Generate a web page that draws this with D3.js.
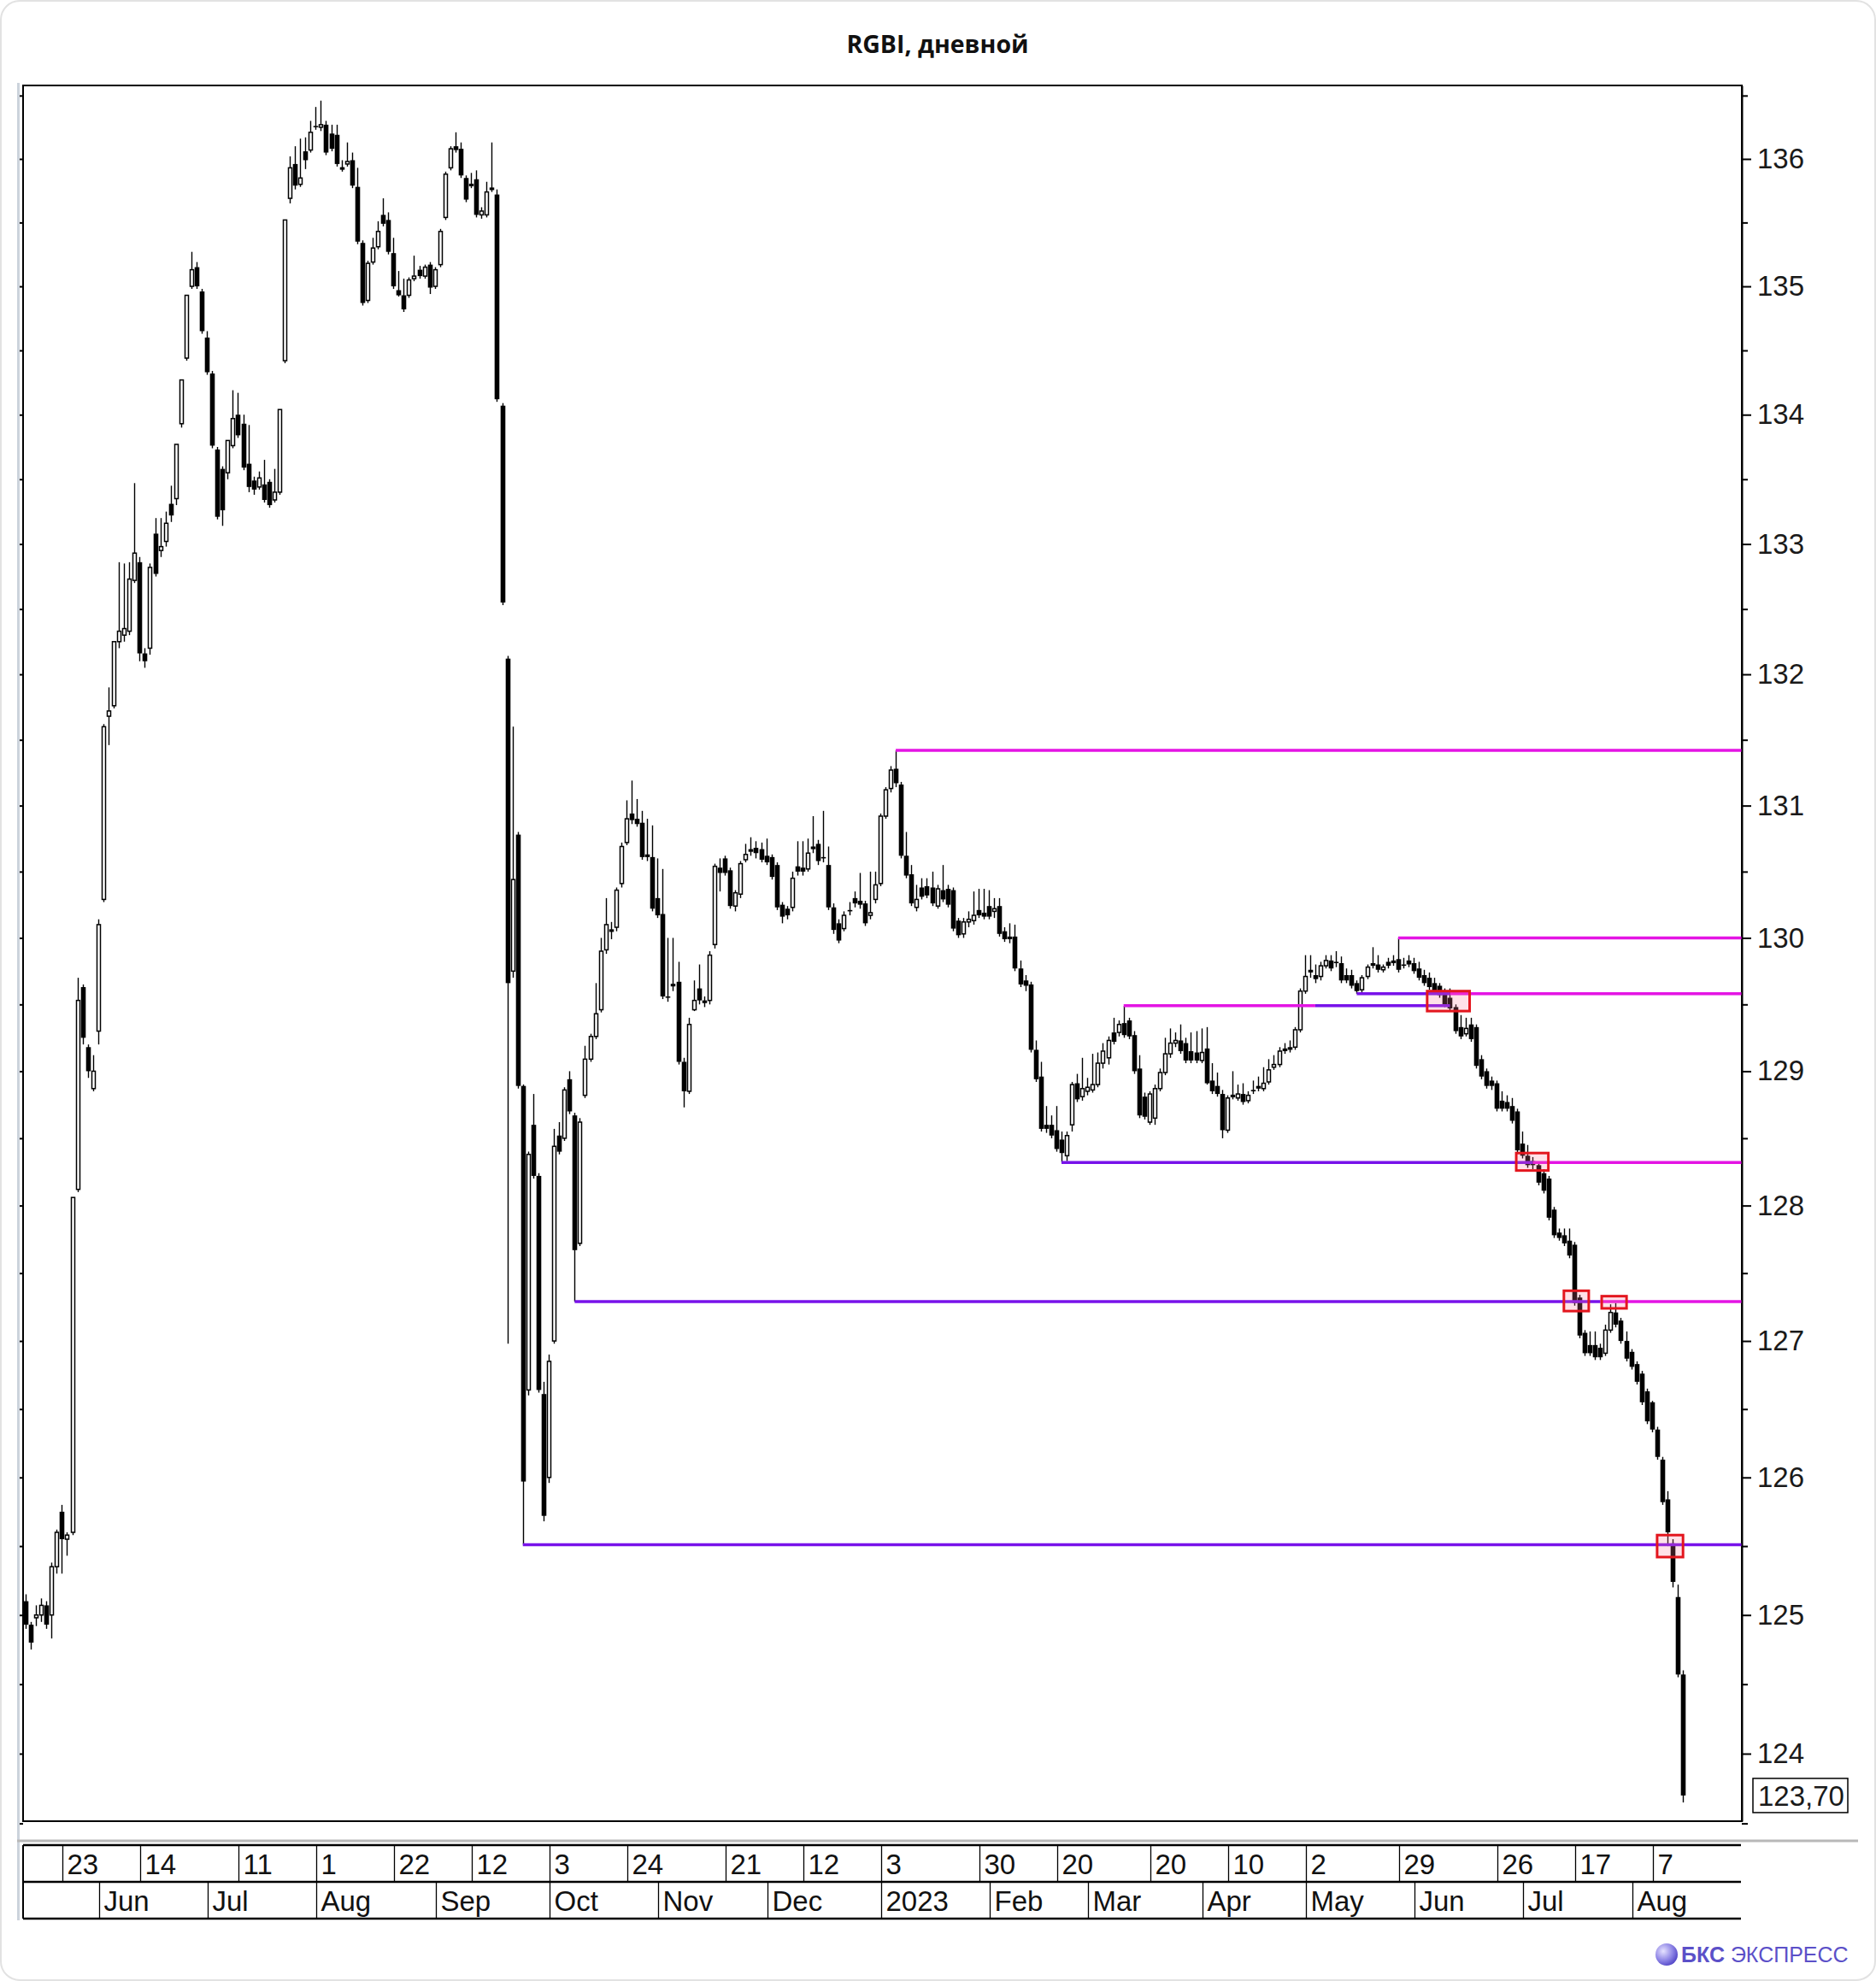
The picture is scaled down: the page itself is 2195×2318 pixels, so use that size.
<!DOCTYPE html>
<html><head><meta charset="utf-8">
<script src="https://cdn.jsdelivr.net/npm/d3@7"></script>
<style>html,body{margin:0;padding:0;background:#fff;}svg{display:block;}</style>
</head><body><svg id="c" width="2195" height="2318"></svg>
<script>
// ---------------- DATA ----------------
const title = "RGBI, дневной";
const opens = [
125.10,124.93,124.98,125.00,125.07,125.00,125.35,125.75,125.55,125.60,
128.12,129.63,129.18,128.87,129.30,130.29,131.68,131.76,132.25,132.30,
132.33,132.72,132.86,132.16,132.20,133.08,132.95,133.02,133.31,133.35,
133.93,134.44,135.00,135.15,134.96,134.60,134.32,133.73,133.58,133.55,
133.76,134.00,133.93,133.62,133.49,133.44,133.46,133.48,133.34,133.40,
134.42,135.69,135.96,135.80,136.06,136.07,136.26,136.25,136.27,136.20,
136.19,135.93,135.96,135.99,135.78,135.34,134.89,135.19,135.31,135.56,
135.52,135.26,134.97,134.93,134.93,135.06,135.13,135.08,135.17,135.00,
135.17,135.54,135.93,136.10,136.08,135.85,135.80,135.84,135.56,135.56,
135.76,135.72,134.07,132.12,129.75,130.78,128.89,126.64,128.60,128.22,
126.61,126.00,127.00,128.52,128.50,128.94,128.67,127.72,128.82,129.09,
129.26,129.46,129.91,130.05,130.08,130.41,130.72,130.94,130.90,130.87,
130.63,130.61,130.30,130.18,129.56,129.64,129.67,129.07,128.85,129.46,
129.62,129.53,129.53,129.95,130.53,130.60,130.51,130.24,130.33,130.59,
130.67,130.68,130.67,130.62,130.61,130.55,130.25,130.22,130.23,130.54,
130.53,130.52,130.69,130.71,130.61,130.55,130.23,130.11,130.07,130.21,
130.30,130.28,130.26,130.17,130.29,130.41,130.92,131.13,131.28,131.16,
130.62,130.48,130.23,130.38,130.39,130.38,130.24,130.36,130.37,130.36,
130.13,130.03,130.12,130.13,130.21,130.19,130.24,130.20,130.24,130.05,
130.01,130.01,129.77,129.68,129.65,129.16,128.96,128.60,128.60,128.56,
128.49,128.37,128.60,128.91,128.81,128.85,128.86,128.90,129.06,129.10,
129.29,129.29,129.36,129.38,129.27,129.02,128.81,128.62,128.65,128.87,
128.99,129.13,129.21,129.23,129.21,129.15,129.14,129.08,129.17,128.93,
128.89,128.83,128.56,128.81,128.80,128.83,128.78,128.86,128.89,128.87,
128.92,129.03,129.05,129.17,129.18,129.18,129.31,129.60,129.76,129.72,
129.71,129.79,129.83,129.82,129.81,129.72,129.72,129.66,129.61,129.71,
129.81,129.80,129.76,129.82,129.83,129.84,129.80,129.83,129.81,129.77,
129.72,129.70,129.66,129.64,129.59,129.55,129.48,129.33,129.28,129.35,
129.33,129.09,129.00,128.93,128.91,128.78,128.77,128.74,128.70,128.46,
128.37,128.33,128.30,128.24,128.20,127.97,127.80,127.78,127.74,127.71,
127.32,127.06,126.97,126.97,126.95,126.91,127.08,127.21,127.15,127.00,
126.92,126.83,126.76,126.63,126.55,126.35,126.13,125.84,125.52,125.13,
124.57];
const highs = [
125.15,124.95,125.07,125.12,125.10,125.38,125.62,125.80,125.60,128.06,
129.70,129.65,129.20,129.12,130.14,131.62,131.90,132.25,132.86,132.85,
132.86,133.47,132.90,132.20,132.85,133.20,133.20,133.25,133.45,133.77,
134.27,134.93,135.27,135.19,134.98,134.65,134.34,133.75,133.60,133.80,
134.19,134.17,134.00,133.92,133.52,133.56,133.65,133.50,133.58,134.04,
135.52,136.02,136.10,136.16,136.17,136.30,136.41,136.46,136.30,136.27,
136.27,135.99,136.13,136.05,135.93,135.36,135.20,135.38,135.51,135.69,
135.58,135.38,135.12,135.06,135.07,135.24,135.16,135.17,135.19,135.15,
135.45,135.90,136.10,136.21,136.13,135.87,135.89,135.91,135.62,135.82,
136.13,135.76,134.09,132.14,131.60,130.80,128.90,128.40,128.83,128.24,
126.70,126.90,128.57,128.62,128.88,129.00,128.69,128.65,129.19,129.28,
129.66,130.00,130.30,130.12,130.38,130.72,131.04,131.19,131.05,130.96,
130.90,130.85,130.60,130.52,130.00,130.00,129.82,129.10,129.40,129.68,
129.80,129.56,129.90,130.56,130.60,130.62,130.53,130.36,130.58,130.71,
130.76,130.73,130.72,130.75,130.63,130.57,130.27,130.24,130.50,130.73,
130.73,130.75,130.92,130.74,130.96,130.69,130.26,130.14,130.20,130.27,
130.35,130.49,130.28,130.50,130.50,130.94,131.14,131.30,131.42,131.18,
130.80,130.55,130.40,130.45,130.45,130.50,130.40,130.55,130.40,130.38,
130.15,130.15,130.20,130.35,130.37,130.37,130.36,130.30,130.30,130.08,
130.11,130.10,129.83,129.72,129.67,129.23,129.07,128.74,128.67,128.74,
128.55,128.55,128.92,128.98,129.10,128.95,129.13,129.14,129.21,129.26,
129.40,129.38,129.49,129.40,129.30,129.12,128.84,128.85,128.90,129.02,
129.25,129.32,129.29,129.35,129.25,129.29,129.30,129.32,129.33,129.06,
128.99,128.86,128.82,129.00,128.90,128.91,128.85,128.93,128.96,129.03,
129.09,129.12,129.18,129.21,129.23,129.33,129.62,129.87,129.87,129.80,
129.82,129.87,129.87,129.90,129.86,129.77,129.76,129.68,129.72,129.80,
129.93,129.87,129.80,129.85,129.87,130.00,129.85,129.87,129.85,129.82,
129.76,129.74,129.70,129.66,129.62,129.62,129.50,129.42,129.40,129.40,
129.35,129.12,129.02,128.96,128.93,128.85,128.82,128.80,128.72,128.55,
128.45,128.36,128.32,128.27,128.22,127.99,127.83,127.83,127.83,127.73,
127.34,127.08,127.07,127.07,126.98,127.12,127.27,127.28,127.17,127.07,
126.94,126.85,126.78,126.65,126.56,126.37,126.15,125.90,125.55,125.22,
124.60];
const lows = [
124.90,124.75,124.92,124.95,124.90,124.83,125.30,125.30,125.43,125.58,
128.10,129.20,128.95,128.85,129.20,130.27,131.46,131.74,132.20,132.25,
132.30,132.70,132.10,132.05,132.15,132.75,132.90,132.98,133.17,133.30,
133.90,134.42,134.98,134.98,134.63,134.31,133.74,133.19,133.14,133.50,
133.74,133.82,133.57,133.40,133.38,133.42,133.32,133.28,133.32,133.38,
134.40,135.65,135.76,135.78,135.92,136.05,136.23,136.22,136.03,136.06,
135.94,135.90,135.94,135.77,135.33,134.85,134.87,135.17,135.29,135.47,
135.25,134.98,134.92,134.80,134.91,135.04,135.06,135.06,134.94,134.98,
135.15,135.52,135.91,136.05,135.85,135.66,135.77,135.54,135.53,135.54,
135.74,134.10,132.53,126.98,129.70,128.87,125.51,126.60,128.20,126.62,
125.68,125.96,126.98,128.38,128.48,128.68,127.29,127.70,128.80,129.07,
129.24,129.44,129.88,129.99,130.05,130.38,130.70,130.86,130.84,130.59,
130.58,130.20,130.15,129.54,129.52,129.60,129.05,128.73,128.83,129.45,
129.50,129.48,129.50,129.92,130.35,130.47,130.22,130.20,130.30,130.57,
130.62,130.60,130.57,130.55,130.44,130.21,130.11,130.14,130.20,130.47,
130.47,130.50,130.64,130.55,130.57,130.21,130.03,129.96,130.05,130.17,
130.23,130.22,130.09,130.14,130.26,130.39,130.90,131.10,131.14,130.60,
130.45,130.24,130.20,130.29,130.30,130.24,130.22,130.27,130.23,130.05,
130.00,130.00,130.08,130.10,130.15,130.14,130.14,130.15,130.01,129.97,
129.96,129.75,129.63,129.60,129.14,128.92,128.55,128.54,128.50,128.40,
128.32,128.33,128.55,128.77,128.78,128.82,128.84,128.88,129.02,129.05,
129.20,129.26,129.25,129.24,128.98,128.65,128.64,128.60,128.60,128.85,
128.97,129.10,129.18,129.13,129.06,129.06,129.06,129.06,128.90,128.83,
128.81,128.50,128.54,128.79,128.78,128.75,128.76,128.83,128.85,128.85,
128.90,129.01,129.03,129.13,129.14,129.16,129.29,129.58,129.70,129.66,
129.68,129.77,129.75,129.78,129.66,129.66,129.62,129.58,129.58,129.69,
129.77,129.74,129.74,129.77,129.79,129.74,129.77,129.78,129.73,129.68,
129.64,129.61,129.58,129.55,129.48,129.45,129.28,129.24,129.26,129.22,
129.02,128.94,128.87,128.86,128.70,128.70,128.70,128.61,128.39,128.35,
128.28,128.27,128.15,128.09,127.89,127.76,127.74,127.70,127.61,127.26,
127.02,126.89,126.89,126.86,126.86,126.89,127.06,127.10,126.98,126.85,
126.79,126.68,126.53,126.39,126.33,126.13,125.80,125.50,125.20,124.55,
123.65];
const closes = [
124.93,124.80,125.00,125.07,124.93,125.35,125.60,125.55,125.58,128.06,
129.53,129.25,129.00,129.00,130.10,131.60,131.72,132.25,132.33,132.35,
132.73,132.93,132.16,132.10,132.82,132.77,132.98,133.16,133.22,133.77,
134.27,134.93,135.13,135.00,134.65,134.33,133.76,133.21,133.26,133.80,
133.97,133.84,133.59,133.44,133.42,133.51,133.34,133.30,133.40,134.04,
135.52,135.93,135.79,135.85,135.99,136.21,136.25,136.27,136.05,136.08,
135.96,135.93,135.98,135.79,135.35,134.87,135.18,135.30,135.43,135.49,
135.27,135.00,134.93,134.82,135.05,135.08,135.08,135.15,134.99,135.13,
135.43,135.88,136.08,136.07,135.87,135.68,135.80,135.56,135.59,135.74,
135.77,134.12,132.55,129.66,130.44,128.89,125.97,128.38,128.22,126.64,
125.72,126.85,128.44,128.40,128.86,128.70,127.67,128.62,129.09,129.26,
129.43,129.90,130.10,130.06,130.36,130.69,130.90,130.89,130.86,130.61,
130.61,130.22,130.17,129.56,129.55,129.65,129.07,128.85,129.35,129.53,
129.53,129.51,129.87,130.54,130.49,130.49,130.24,130.34,130.56,130.63,
130.65,130.64,130.59,130.57,130.46,130.23,130.16,130.17,130.45,130.50,
130.50,130.64,130.67,130.58,130.60,130.23,130.06,129.98,130.17,130.20,
130.26,130.25,130.11,130.19,130.40,130.92,131.12,131.27,131.17,130.62,
130.47,130.26,130.29,130.31,130.32,130.26,130.37,130.29,130.25,130.07,
130.02,130.12,130.14,130.17,130.17,130.16,130.16,130.22,130.03,129.99,
129.99,129.77,129.65,129.64,129.16,128.94,128.57,128.57,128.52,128.42,
128.39,128.52,128.90,128.79,128.87,128.88,128.90,129.06,129.15,129.23,
129.22,129.35,129.27,129.26,129.00,128.67,128.66,128.83,128.87,128.99,
129.13,129.21,129.23,129.15,129.08,129.08,129.08,129.14,128.91,128.85,
128.83,128.56,128.80,128.82,128.83,128.77,128.82,128.85,128.87,128.91,
129.01,129.05,129.15,129.15,129.16,129.31,129.60,129.71,129.74,129.69,
129.79,129.83,129.77,129.81,129.68,129.68,129.64,129.60,129.70,129.78,
129.79,129.76,129.78,129.79,129.81,129.76,129.79,129.80,129.75,129.70,
129.66,129.63,129.60,129.57,129.50,129.47,129.30,129.26,129.32,129.24,
129.04,128.96,128.89,128.89,128.72,128.72,128.72,128.63,128.41,128.37,
128.30,128.30,128.17,128.11,127.91,127.78,127.76,127.72,127.63,127.28,
127.04,126.91,126.91,126.88,126.88,127.08,127.21,127.12,127.00,126.87,
126.81,126.70,126.55,126.41,126.35,126.15,125.82,125.60,125.24,124.57,
123.70];
const lastPrice = "123,70";
// price ticks (log axis)
const majorTicks = [124,125,126,127,128,129,130,131,132,133,134,135,136];
const minorTicks = [123.5,124.5,125.5,126.5,127.5,128.5,129.5,130.5,131.5,132.5,133.5,134.5,135.5,136.5];
// date axis: candle index where each label cell starts
const dayTickIdx    = [7,22,41,56,71,86,101,116,135,150,165,184,199,217,232,247,265,284,299,314];
const dayTickLabels = ["23","14","11","1","22","12","3","24","21","12","3","30","20","20","10","2","29","26","17","7"];
const monthTickIdx    = [14,35,56,79,101,122,143,165,186,205,227,247,268,289,310];
const monthTickLabels = ["Jun","Jul","Aug","Sep","Oct","Nov","Dec","2023","Feb","Mar","Apr","May","Jun","Jul","Aug"];
// horizontal level lines: value, start index, end index (null = right edge), colour kind
const levelValues = [131.42,130.00,129.58,129.58,129.49,129.49,128.32,128.32,127.29,127.29,125.51];
const levelStart  = [168,265,257,275,212,249,200,291,106,304,96];
const levelEnd    = [null,null,275,null,249,275,291,null,304,null,null];
const levelKind   = ["res","res","sup","res","res","sup","sup","res","sup","res","sup"];
// red marker boxes: index range and value range
const boxI0 = [270.6,287.8,297.0,304.3,315.0];
const boxI1 = [278.8,294.0,301.8,309.1,320.0];
const boxHi = [129.60,128.39,127.37,127.33,125.58];
const boxLo = [129.45,128.26,127.22,127.24,125.42];

// ---------------- LAYOUT ----------------
const W=2195,H=2318;
const L=27,R=2038,T=100,B=2131;
const svg=d3.select("#c");
const FONT="'Liberation Sans', Arial, sans-serif";

svg.append("rect").attr("x",1).attr("y",1).attr("width",W-2).attr("height",H-2)
  .attr("rx",22).attr("fill","#fff").attr("stroke","#e2e2e2").attr("stroke-width",2);

svg.append("text").attr("x",1097).attr("y",62).attr("text-anchor","middle")
  .attr("font-family","'Open Sans', sans-serif").attr("font-weight",700).attr("font-size",28.5)
  .attr("fill","#111").text(title);

const n=closes.length;
const x=d3.scaleLinear().domain([0,n-1]).range([30,30+6.06*(n-1)]);
const y=d3.scaleLog().domain([123.516,136.58]).range([B,T]);

// left light line
svg.append("line").attr("x1",21.5).attr("x2",21.5).attr("y1",97).attr("y2",2247)
  .attr("stroke","#ccd3dc").attr("stroke-width",3);

// plot frame
svg.append("rect").attr("x",L).attr("y",T).attr("width",R-L).attr("height",B-T)
  .attr("fill","none").attr("stroke","#000").attr("stroke-width",2);

// candles
const cg=svg.append("g");
d3.range(n).forEach(i=>{
  const cx=Math.round(x(i))+0.5;
  cg.append("line").attr("x1",cx).attr("x2",cx).attr("y1",y(highs[i])).attr("y2",y(lows[i]))
    .attr("stroke","#000").attr("stroke-width",1.4);
  const up=closes[i]>=opens[i];
  const yt=y(Math.max(opens[i],closes[i])), yb=y(Math.min(opens[i],closes[i]));
  const h=Math.max(1.5,yb-yt);
  if(up){
    cg.append("rect").attr("x",cx-2).attr("y",yt).attr("width",4).attr("height",h)
      .attr("fill","#fff").attr("stroke","#000").attr("stroke-width",1.5);
  } else {
    cg.append("rect").attr("x",cx-2.8).attr("y",yt).attr("width",5.6).attr("height",h)
      .attr("fill","#000");
  }
});

// level lines
const colors={res:"#e414e4",sup:"#7812ea"};
const lg=svg.append("g");
levelValues.forEach((v,k)=>{
  const x1=x(levelStart[k]);
  const x2=levelEnd[k]==null?R:x(levelEnd[k]);
  lg.append("line").attr("x1",x1).attr("x2",x2).attr("y1",y(v)).attr("y2",y(v))
    .attr("stroke",colors[levelKind[k]]).attr("stroke-width",3.5);
});

// red boxes
boxI0.forEach((a,k)=>{
  svg.append("rect").attr("x",x(a)).attr("y",y(boxHi[k]))
    .attr("width",x(boxI1[k])-x(a)).attr("height",y(boxLo[k])-y(boxHi[k]))
    .attr("fill","rgba(255,120,150,0.22)").attr("stroke","#e3161e").attr("stroke-width",3);
});

// right axis
const ax=svg.append("g").attr("transform",`translate(${R},0)`)
  .call(d3.axisRight(y).tickValues(majorTicks).tickSize(11).tickSizeOuter(0).tickPadding(7).tickFormat(d=>String(d)));
ax.select(".domain").attr("stroke","#000").attr("stroke-width",2);
ax.selectAll(".tick line").attr("stroke","#000").attr("stroke-width",2);
ax.selectAll(".tick text").attr("font-family",FONT).attr("font-size",33).attr("fill","#1a1a1a");
const axm=svg.append("g").attr("transform",`translate(${R},0)`)
  .call(d3.axisRight(y).tickValues(minorTicks).tickSize(7).tickSizeOuter(0).tickFormat(()=>""));
axm.select(".domain").remove();
axm.selectAll(".tick line").attr("stroke","#000").attr("stroke-width",2);
// left small ticks
const axl=svg.append("g").attr("transform",`translate(${L},0)`)
  .call(d3.axisLeft(y).tickValues(majorTicks.concat(minorTicks)).tickSize(4).tickSizeOuter(0).tickFormat(()=>""));
axl.select(".domain").remove();
axl.selectAll(".tick line").attr("stroke","#000").attr("stroke-width",2);

// last price box
const lpY=y(closes[n-1]);
svg.append("rect").attr("x",2051).attr("y",lpY-20).attr("width",111).attr("height",40)
  .attr("fill","#fff").attr("stroke","#000").attr("stroke-width",1.5);
svg.append("text").attr("x",2057).attr("y",lpY+12).attr("font-family",FONT).attr("font-size",33)
  .attr("fill","#1a1a1a").text(lastPrice);

// date table
const t0=2159,t1=2202,t2=2245;
svg.append("line").attr("x1",20).attr("x2",2174).attr("y1",2154).attr("y2",2154).attr("stroke","#b8b8b8").attr("stroke-width",3);
const tg=svg.append("g");
[t0,t1,t2].forEach(yy=>tg.append("line").attr("x1",L).attr("x2",R-1).attr("y1",yy).attr("y2",yy).attr("stroke","#000").attr("stroke-width",2.5));
tg.append("line").attr("x1",L).attr("x2",L).attr("y1",t0).attr("y2",t2).attr("stroke","#000").attr("stroke-width",2);
dayTickIdx.forEach((i,k)=>{
  const xx=Math.round(x(i))+1.5;
  tg.append("line").attr("x1",xx).attr("x2",xx).attr("y1",t0).attr("y2",t1).attr("stroke","#000").attr("stroke-width",1.3);
  tg.append("text").attr("x",xx+5).attr("y",t1-9).attr("font-family",FONT).attr("font-size",33).attr("fill","#111").text(dayTickLabels[k]);
});
monthTickIdx.forEach((i,k)=>{
  const xx=Math.round(x(i))+1.5;
  tg.append("line").attr("x1",xx).attr("x2",xx).attr("y1",t1).attr("y2",t2).attr("stroke","#000").attr("stroke-width",1.3);
  tg.append("text").attr("x",xx+5).attr("y",t2-9).attr("font-family",FONT).attr("font-size",33).attr("fill","#111").text(monthTickLabels[k]);
});

// watermark
const defs=svg.append("defs");
const rg=defs.append("radialGradient").attr("id","lg").attr("cx","35%").attr("cy","35%").attr("r","70%");
rg.append("stop").attr("offset","0%").attr("stop-color","#e6e2ff");
rg.append("stop").attr("offset","60%").attr("stop-color","#8f86e6");
rg.append("stop").attr("offset","100%").attr("stop-color","#5347c8");
svg.append("circle").attr("cx",1950).attr("cy",2287).attr("r",13).attr("fill","url(#lg)");
const wm=svg.append("text").attr("x",1967).attr("y",2296).attr("font-family",FONT).attr("font-size",25).attr("fill","#5b50c8");
wm.append("tspan").attr("font-weight",700).text("БКС");
wm.append("tspan").text(" ЭКСПРЕСС");
</script></body></html>
